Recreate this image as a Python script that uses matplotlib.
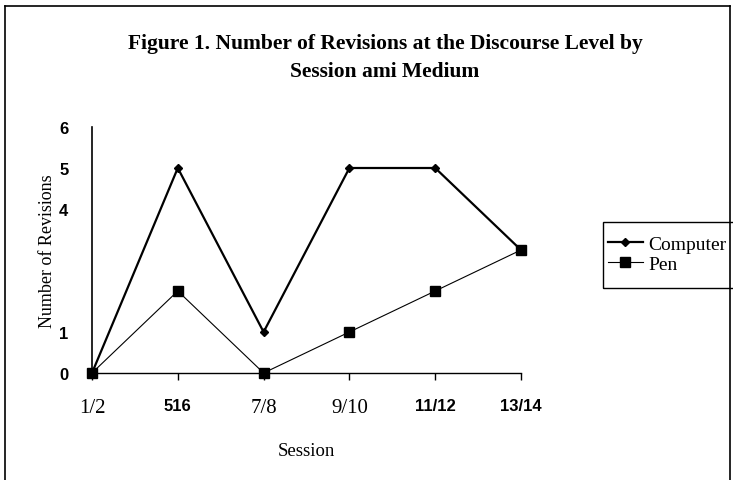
import matplotlib.pyplot as plt
from matplotlib.lines import Line2D
from matplotlib.patches import Rectangle

sessions = ['1/2', '516', '7/8', '9/10', '11/12', '13/14']
computer = [0, 5, 1, 5, 5, 3]
pen = [0, 2, 0, 1, 2, 3]
ytick_vals = [0, 1, 4, 5, 6]

serif = 'Liberation Serif'
sans = 'Liberation Sans'

fig = plt.figure(figsize=(7.33, 4.81), dpi=100)
ax = fig.add_axes([92/733, 1-374/481, (521-92)/733, (374-128)/481])

x = list(range(len(sessions)))
ax.plot(x, computer, color='black', lw=1.6, marker='D', ms=4.5, label='Computer', clip_on=False, zorder=3)
ax.plot(x, pen, color='black', lw=0.8, marker='s', ms=7, label='Pen', clip_on=False, zorder=3)

ax.set_xlim(0, len(sessions)-1)
ax.set_ylim(0, 6)
for s in ['top', 'right']:
    ax.spines[s].set_visible(False)
ax.spines['left'].set_linewidth(1.2)
ax.spines['bottom'].set_linewidth(1.0)

ax.set_xticks(x)
ax.set_xticklabels(sessions)
ax.tick_params(axis='x', direction='out', length=5, width=1, pad=13)
# the scanned labels mix serif and bold sans
for lab, txt in zip(ax.get_xticklabels(), sessions):
    if txt in ('1/2', '7/8', '9/10'):
        lab.set_fontfamily(serif)
        lab.set_fontsize(15)
    else:
        lab.set_fontfamily(sans)
        lab.set_fontweight('bold')
        lab.set_fontsize(12)

ax.set_yticks(ytick_vals)
ax.set_yticklabels([str(v) for v in ytick_vals], fontfamily=sans, fontweight='bold', fontsize=12)
ax.tick_params(axis='y', length=0, pad=17)

ax.set_ylabel('Number of Revisions', fontfamily=serif, fontsize=13, labelpad=2)
ax.set_xlabel('Session', fontfamily=serif, fontsize=13.5, labelpad=18)

fig.text(385/733, 1-44/481, 'Figure 1. Number of Revisions at the Discourse Level by',
         ha='center', va='center', fontfamily=serif, fontweight='bold', fontsize=15.5)
fig.text(385/733, 1-72/481, 'Session ami Medium',
         ha='center', va='center', fontfamily=serif, fontweight='bold', fontsize=15.5)

leg = ax.legend(loc='center left', bbox_to_anchor=(603/733, 1-255/481), bbox_transform=fig.transFigure,
                prop={'family': serif, 'size': 14}, frameon=False,
                handlelength=1.8, handletextpad=0.3, borderpad=0.25, labelspacing=0.1,
                borderaxespad=0)
# legend box drawn by hand, taller than the legend's own frame
fig.add_artist(Rectangle((603/733, 1-289/481), 140/733, 66/481, transform=fig.transFigure,
                         fill=False, edgecolor='black', lw=1.0))

# outer frame of the scanned figure
for xs, ys in [([5/733, 5/733], [0, 1-7/481]),
               ([5/733, 730/733], [1-7/481, 1-7/481]),
               ([730/733, 730/733], [1-7/481, 0])]:
    fig.add_artist(Line2D(xs, ys, color='black', lw=1.2))

fig.savefig('out.png', dpi=100)
